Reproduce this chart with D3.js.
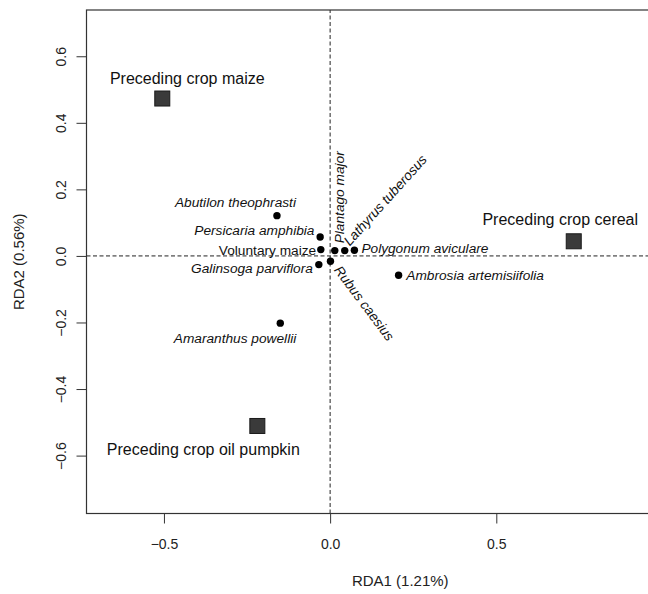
<!DOCTYPE html>
<html>
<head>
<meta charset="utf-8">
<script src="https://cdn.jsdelivr.net/npm/d3@7"></script>
<style>
  body { margin: 0; background: #fff; }
  svg { font-family: "Liberation Sans", Arial, sans-serif; }
</style>
</head>
<body>
<svg id="chart" width="648" height="594"></svg>
<script>
// species scores
const species = [
  "Abutilon theophrasti", "Persicaria amphibia", "Voluntary maize", "Plantago major",
  "Lathyrus tuberosus", "Polygonum aviculare", "Galinsoga parviflora", "Rubus caesius",
  "Ambrosia artemisiifolia", "Amaranthus powellii"
];
const speciesRDA1 = [-0.160, -0.030, -0.028, 0.014, 0.044, 0.073, -0.034, 0.001, 0.206, -0.150];
const speciesRDA2 = [0.121, 0.057, 0.019, 0.016, 0.016, 0.017, -0.026, -0.016, -0.058, -0.202];

// centroids of the explanatory factor
const crops = ["Preceding crop maize", "Preceding crop cereal", "Preceding crop oil pumpkin"];
const cropRDA1 = [-0.505, 0.733, -0.219];
const cropRDA2 = [0.473, 0.044, -0.511];

const xTicks = [-0.5, 0.0, 0.5];
const yTicks = [-0.6, -0.4, -0.2, 0.0, 0.2, 0.4, 0.6];

// where each label sits next to its point (px), like text(pos=) in R
const labelPos = {
  "Abutilon theophrasti": { dx: 19, dy: -8.6, anchor: "end", rot: 0 },
  "Persicaria amphibia": { dx: -5.7, dy: -1.7, anchor: "end", rot: 0 },
  "Voluntary maize": { dx: -4.6, dy: 5.7, anchor: "end", rot: 0 },
  "Plantago major": { dx: 9.7, dy: -7.3, anchor: "start", rot: -90 },
  "Lathyrus tuberosus": { dx: 5, dy: -4, anchor: "start", rot: -48 },
  "Polygonum aviculare": { dx: 7, dy: 2.5, anchor: "start", rot: 0 },
  "Galinsoga parviflora": { dx: -6, dy: 8.7, anchor: "end", rot: 0 },
  "Rubus caesius": { dx: 3, dy: 9, anchor: "start", rot: 53 },
  "Ambrosia artemisiifolia": { dx: 7.7, dy: 4.5, anchor: "start", rot: 0 },
  "Amaranthus powellii": { dx: 16, dy: 19.7, anchor: "end", rot: 0 },
  "Preceding crop maize": { dx: 25, dy: -15, anchor: "middle", rot: 0 },
  "Preceding crop cereal": { dx: -13.5, dy: -16, anchor: "middle", rot: 0 },
  "Preceding crop oil pumpkin": { dx: -54, dy: 29, anchor: "middle", rot: 0 }
};
// not a Latin name, so set upright
const uprightLabels = ["Voluntary maize"];

const svg = d3.select("#chart");
const margin = { top: 10, left: 86.5 };
const width = 627.5;   // plot region runs past the right edge of the picture
const height = 503.5;

const x = d3.scaleLinear()
  .domain([-0.733, 1.155])
  .range([margin.left, margin.left + width]);
const y = d3.scaleLinear()
  .domain([-0.774, 0.739])
  .range([margin.top + height, margin.top]);

const fmt = d3.format(".1f");

// dashed zero lines
svg.append("line")
  .attr("x1", x.range()[0]).attr("x2", x.range()[1])
  .attr("y1", y(0)).attr("y2", y(0))
  .attr("stroke", "#222").attr("stroke-dasharray", "4,2.5");
svg.append("line")
  .attr("x1", x(0)).attr("x2", x(0))
  .attr("y1", y.range()[0]).attr("y2", y.range()[1])
  .attr("stroke", "#222").attr("stroke-dasharray", "4,2.5");

// axes
const xAxis = (g) =>
  g.attr("transform", `translate(0,${margin.top + height})`)
    .call(d3.axisBottom(x).tickValues(xTicks).tickFormat(fmt).tickSize(10).tickPadding(16))
    .call((g) => g.select(".domain").remove())
    .call((g) => g.selectAll("line").attr("stroke", "#333"))
    .call((g) => g.selectAll("text").attr("font-size", 14).attr("fill", "#222").attr("font-family", null));

const yAxis = (g) =>
  g.attr("transform", `translate(${margin.left},0)`)
    .call(d3.axisLeft(y).tickValues(yTicks).tickFormat(fmt).tickSize(10))
    .call((g) => g.select(".domain").remove())
    .call((g) => g.selectAll("line").attr("stroke", "#333"))
    .call((g) => g.selectAll("text")
      .attr("font-size", 14).attr("fill", "#222").attr("font-family", null)
      .attr("x", null)
      .attr("text-anchor", "middle")
      .attr("transform", "translate(-25,0) rotate(-90)")
      .attr("dy", "0.35em"));

svg.append("g").call(xAxis);
svg.append("g").call(yAxis);

// box
svg.append("rect")
  .attr("x", margin.left).attr("y", margin.top)
  .attr("width", width).attr("height", height)
  .attr("fill", "none").attr("stroke", "#333").attr("stroke-width", 1.2);

// axis titles
svg.append("text")
  .attr("x", margin.left + width / 2).attr("y", 586)
  .attr("text-anchor", "middle").attr("font-size", 15).attr("fill", "#222")
  .text("RDA1 (1.21%)");
svg.append("text")
  .attr("transform", `translate(24,${margin.top + height / 2}) rotate(-90)`)
  .attr("text-anchor", "middle").attr("font-size", 15).attr("fill", "#222")
  .text("RDA2 (0.56%)");

const spData = species.map((name, i) => ({ name, x: speciesRDA1[i], y: speciesRDA2[i] }));
const cropData = crops.map((name, i) => ({ name, x: cropRDA1[i], y: cropRDA2[i] }));

svg.append("g")
  .selectAll("circle")
  .data(spData)
  .join("circle")
  .attr("cx", (d) => x(d.x))
  .attr("cy", (d) => y(d.y))
  .attr("r", 3.7)
  .attr("fill", "#000");

svg.append("g")
  .selectAll("rect")
  .data(cropData)
  .join("rect")
  .attr("x", (d) => x(d.x) - 7.5)
  .attr("y", (d) => y(d.y) - 7.5)
  .attr("width", 15)
  .attr("height", 15)
  .attr("fill", "#3a3a3a")
  .attr("stroke", "#1a1a1a");

const placeLabel = (d) => {
  const p = labelPos[d.name];
  return `translate(${x(d.x) + p.dx},${y(d.y) + p.dy}) rotate(${p.rot})`;
};

svg.append("g")
  .selectAll("text")
  .data(spData)
  .join("text")
  .attr("transform", placeLabel)
  .attr("text-anchor", (d) => labelPos[d.name].anchor)
  .attr("font-size", 13.7)
  .attr("font-style", (d) => (uprightLabels.includes(d.name) ? "normal" : "italic"))
  .attr("fill", "#111")
  .text((d) => d.name);

svg.append("g")
  .selectAll("text")
  .data(cropData)
  .join("text")
  .attr("transform", placeLabel)
  .attr("text-anchor", (d) => labelPos[d.name].anchor)
  .attr("font-size", 16)
  .attr("fill", "#111")
  .text((d) => d.name);
</script>
</body>
</html>
